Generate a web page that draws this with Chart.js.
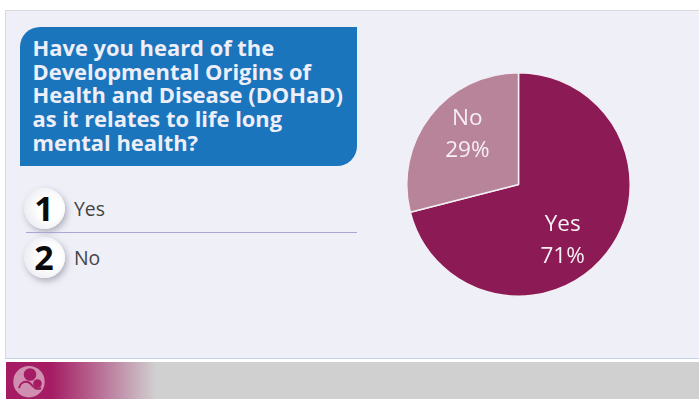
<!DOCTYPE html>
<html>
<head>
<meta charset="utf-8">
<title>DOHaD poll</title>
<script src="https://cdn.jsdelivr.net/npm/chart.js@4"></script>
<style>
html,body{margin:0;padding:0;background:#fff}
body{width:699px;height:399px;overflow:hidden;position:relative;font-family:"Open Sans",sans-serif}
.panel{position:absolute;left:5px;top:10px;width:694px;height:349px;background:#efeff8;border-left:1px solid #d9d9dd;border-top:1px solid #d9d9dd;border-bottom:1px solid #c5d3ea;box-sizing:border-box}
.question{position:absolute;left:19.5px;top:27px;width:337.5px;height:139px;box-sizing:border-box;background:#1b75bc;border-radius:20px 0 20px 0;padding:9px 0 0 13px;color:#eeeef8;font-weight:700;font-size:21.9px;line-height:23.7px;white-space:nowrap}
.num{position:absolute;left:23.5px;width:41px;height:41px;border-radius:50%;background:radial-gradient(circle at 62% 50%,#fff 35%,#e2e2ec 100%);box-shadow:2px 3px 6px rgba(70,70,90,.38);color:#0a0a0a;font-weight:700;font-size:34px;line-height:41px;text-align:center}
.answer{position:absolute;left:74px;color:#444;font-size:19.4px;line-height:24px}
.rule{position:absolute;left:26px;top:232px;width:331px;height:1px;background:#a9a6d4}
.footer{position:absolute;left:6px;top:362px;width:693px;height:37px;background:linear-gradient(90deg,#a51c64 0,#a51c64 45px,#d0d0d0 150px,#d0d0d0 100%)}
.footer svg{position:absolute;left:6px;top:2px}
#pieBox{position:absolute;left:406px;top:72px;width:225px;height:225px}
</style>
</head>
<body>
<div class="panel"></div>
<div class="question">Have you heard of the<br>Developmental Origins of<br>Health and Disease (DOHaD)<br>as it relates to life long<br>mental health?</div>

<div class="num" style="top:187.5px">1</div>
<div class="answer" style="top:196.5px">Yes</div>
<div class="rule"></div>
<div class="num" style="top:236.5px">2</div>
<div class="answer" style="top:245.5px">No</div>

<div id="pieBox"><canvas id="pie" width="225" height="225"></canvas></div>

<div class="footer">
<svg width="36" height="36" viewBox="0 0 36 36">
<circle cx="17" cy="17.7" r="15.7" fill="#d08fb0"/>
<circle cx="18" cy="10.5" r="6.3" fill="#a51c64"/>
<circle cx="25.5" cy="19.5" r="4.3" fill="#a51c64"/>
<path d="M7 24c1-5 5-7 9-6 3 1 4 4 7 6 2 1 4 1 6 0" fill="none" stroke="#a51c64" stroke-width="2"/>
</svg>
</div>

<script>
const categories=["Yes","No"]
const percents=[71,29]
const sliceColors=["#8c1a54","#b8849a"]

// labels sit a little off the middle of each slice
const labelOffsets=[[0,21.5],[-7,-15.5]]

const sliceLabels={
    id:"sliceLabels",
    afterDatasetsDraw(chart){
        const ctx=chart.ctx
        const arcs=chart.getDatasetMeta(0).data

        ctx.save()
        ctx.fillStyle="#f6eff4"
        ctx.font='22.5px "Open Sans"'
        ctx.textAlign="center"
        ctx.textBaseline="middle"

        arcs.forEach((arc,i)=>{
            const c=arc.getCenterPoint()
            const x=c.x+labelOffsets[i][0]
            const y=c.y+labelOffsets[i][1]
            ctx.fillText(categories[i],x,y-16)
            ctx.fillText(percents[i]+"%",x,y+16)
        })

        ctx.restore()
    }
}

new Chart(document.getElementById("pie"),{
    type:"pie",
    data:{
        labels:categories,
        datasets:[
            {
                data:percents,
                backgroundColor:sliceColors,
                borderColor:"#f3eef5",
                borderWidth:1.5,
                hoverOffset:0
            }
        ]
    },
    options:{
        responsive:false,
        animation:false,
        layout:{padding:0},
        plugins:{
            legend:false,
            tooltip:{enabled:false}
        }
    },
    plugins:[sliceLabels]
})
</script>
</body>
</html>
